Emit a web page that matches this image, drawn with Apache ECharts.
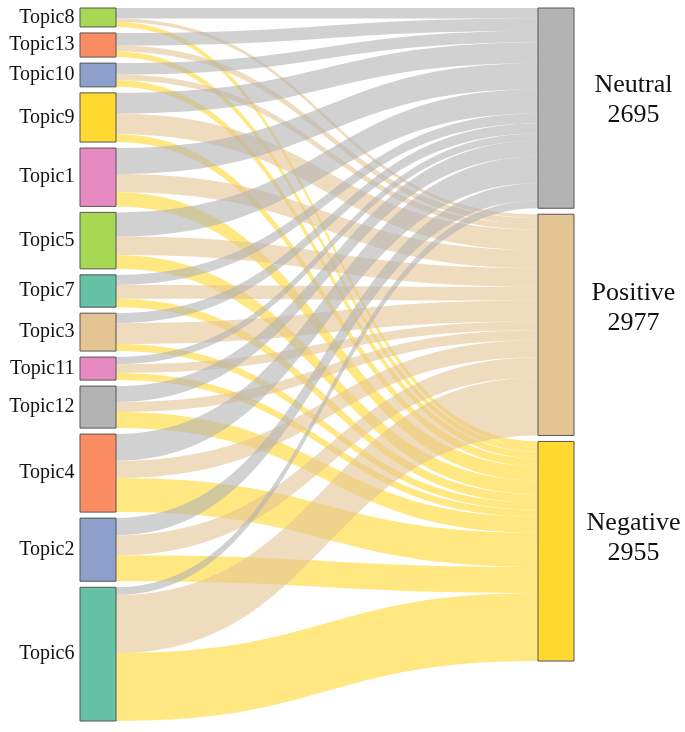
<!DOCTYPE html>
<html>
<head>
<meta charset="utf-8">
<script src="https://cdn.jsdelivr.net/npm/echarts@6/dist/echarts.min.js"></script>
<style>
html,body{margin:0;padding:0;background:#fff;}
#chart{width:685px;height:732px;}
</style>
</head>
<body>
<div id="chart"></div>
<script>
// ---- data ----
const topics = ['Topic8','Topic13','Topic10','Topic9','Topic1','Topic5','Topic7','Topic3','Topic11','Topic12','Topic4','Topic2','Topic6'];
const sentiments = ['Neutral','Positive','Negative'];
const sentimentTotals = [2695, 2977, 2955];
const neutralVals  = [140,170,155,280,350,325,135,135, 95,215,360,230,105];
const positiveVals = [ 50, 80, 75,277,245,250,185,280,120,135,230,270,780];
const negativeVals = [ 65, 75, 90,105,190,185,115, 95, 95,215,460,350,915];

// ---- styles ----
const topicColors = {
  Topic8:'#a6d854', Topic13:'#fc8d62', Topic10:'#8da0cb', Topic9:'#ffd92f',
  Topic1:'#e78ac3', Topic5:'#a6d854', Topic7:'#66c2a5', Topic3:'#e5c494',
  Topic11:'#e78ac3', Topic12:'#b3b3b3', Topic4:'#fc8d62', Topic2:'#8da0cb', Topic6:'#66c2a5'
};
const sentimentColors = {Neutral:'#b3b3b3', Positive:'#e5c494', Negative:'#ffd92f'};
const sentimentLabelDy = {Neutral:-8, Positive:-17, Negative:-13};
const serif = "'Liberation Serif', 'Times New Roman', serif";

const nodes = [];
topics.forEach(t => nodes.push({
  name: t,
  itemStyle: {color: topicColors[t]},
  label: {position: 'left', distance: 5, fontSize: 20, fontFamily: serif, color: '#111'}
}));
sentiments.forEach((s, i) => nodes.push({
  name: s,
  itemStyle: {color: sentimentColors[s]},
  label: {
    position: 'right', distance: 0, align: 'center',
    offset: [59, sentimentLabelDy[s]],
    fontSize: 26, lineHeight: 30, fontFamily: serif, color: '#111',
    formatter: s + '\n' + sentimentTotals[i]
  }
}));

const links = [];
const valsBySent = [neutralVals, positiveVals, negativeVals];
topics.forEach((t, i) => {
  sentiments.forEach((s, j) => {
    links.push({source: t, target: s, value: valsBySent[j][i]});
  });
});

const chart = echarts.init(document.getElementById('chart'));
chart.setOption({
  animation: false,
  series: [{
    type: 'sankey',
    left: 80, right: 111, top: 8, bottom: 11,
    nodeWidth: 36,
    nodeGap: 6,
    layoutIterations: 0,
    draggable: false,
    emphasis: {disabled: true},
    itemStyle: {borderColor: '#555', borderWidth: 1},
    lineStyle: {color: 'target', opacity: 0.6, curveness: 0.5},
    label: {show: true},
    data: nodes,
    links: links
  }]
});
</script>
</body>
</html>
